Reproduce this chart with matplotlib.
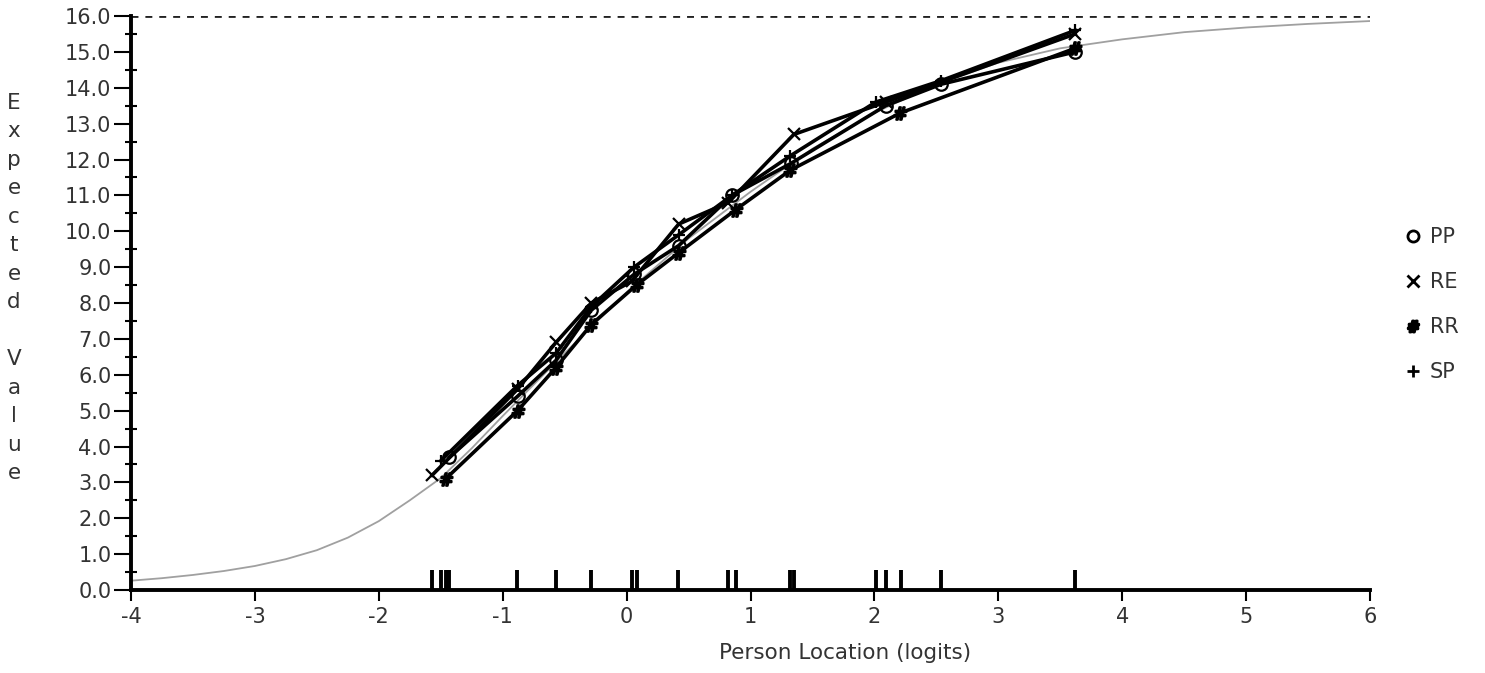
import matplotlib
matplotlib.use("Agg")
import matplotlib.pyplot as plt
from matplotlib.lines import Line2D
import numpy as np

plt.rcParams['font.family'] = ['DejaVu Sans']
plt.rcParams['axes.unicode_minus'] = False

# ---- data ----
# theoretical expected-value curve (grey)
curve_x = [-4, -3.75, -3.5, -3.25, -3, -2.75, -2.5, -2.25, -2, -1.75, -1.5, -1.25,
           -1, -0.5, 0, 0.5, 1, 1.5, 2, 2.5, 3, 3.5, 4, 4.5, 5, 5.5, 6]
curve_y = [0.26, 0.33, 0.42, 0.53, 0.67, 0.86, 1.11, 1.46, 1.92, 2.5, 3.12, 3.95,
           4.85, 6.6, 8.3, 9.8, 11.1, 12.3, 13.3, 14.1, 14.7, 15.1, 15.35, 15.55, 15.68, 15.78, 15.86]

# observed class-interval means per group
pp_x = [-1.43, -0.88, -0.57, -0.285, 0.06, 0.42, 0.85, 1.33, 2.09, 2.54, 3.62]
pp_y = [3.7, 5.4, 6.4, 7.8, 8.8, 9.6, 11.0, 11.9, 13.5, 14.1, 15.0]
re_x = [-1.57, -0.88, -0.57, -0.285, 0.04, 0.42, 0.82, 1.35, 2.09, 3.62]
re_y = [3.2, 5.6, 6.9, 8.0, 8.6, 10.2, 10.8, 12.7, 13.6, 15.5]
rr_x = [-1.46, -0.88, -0.57, -0.285, 0.08, 0.42, 0.88, 1.32, 2.21, 3.62]
rr_y = [3.1, 5.0, 6.2, 7.4, 8.5, 9.4, 10.6, 11.7, 13.3, 15.1]
sp_x = [-1.50, -0.88, -0.57, -0.285, 0.06, 0.42, 0.85, 1.32, 2.01, 2.54, 3.62]
sp_y = [3.6, 5.7, 6.6, 7.9, 9.0, 9.9, 11.0, 12.1, 13.6, 14.2, 15.6]

group_labels = ['PP', 'RE', 'RR', 'SP']
group_markers = ['o', 'x', r'$\#$', '+']

# rug of class-interval locations
rug_x = [-1.573, -1.50, -1.46, -1.43, -0.882, -0.573, -0.285, 0.04, 0.08, 0.418,
         0.82, 0.882, 1.32, 1.35, 2.012, 2.09, 2.214, 2.539, 3.616]

y_max = 16.0
txt = '#333333'

# ---- figure ----
fig = plt.figure(figsize=(14.85, 6.73), dpi=100)
ax = fig.add_axes([0.0882, 0.1233, 0.8344, 0.8529])

ax.plot(curve_x, curve_y, color='#a0a0a0', lw=1.3, zorder=2)

series = [(pp_x, pp_y), (re_x, re_y), (rr_x, rr_y), (sp_x, sp_y)]
for (sx, sy), mk in zip(series, group_markers):
    ax.plot(sx, sy, color='black', lw=2.6, marker=mk, ms=9, mew=1.6,
            mfc='none' if mk == 'o' else 'black', zorder=3)

ax.vlines(rug_x, 0, 0.55, color='black', lw=2.8, zorder=3)
ax.axhline(y_max, color='#222222', lw=2.0, ls=(0, (2.5, 2.5)), zorder=1)

ax.set_xlim(-4, 6)
ax.set_ylim(0, y_max)
ax.set_xticks(np.arange(-4, 7, 1))
ax.set_yticks(np.arange(0, 17, 1))
ax.set_yticks(np.arange(0.5, 16, 1), minor=True)
ax.yaxis.set_major_formatter(matplotlib.ticker.FormatStrFormatter('%.1f'))

ax.spines['top'].set_visible(False)
ax.spines['right'].set_visible(False)
ax.spines['left'].set_linewidth(2.8)
ax.spines['bottom'].set_linewidth(2.8)
ax.tick_params(axis='y', which='major', direction='out', length=12, width=1.5,
               labelsize=15, labelcolor=txt, pad=2)
ax.tick_params(axis='y', which='minor', direction='inout', length=8, width=1.5)
ax.tick_params(axis='x', which='major', direction='out', length=8, width=1.5,
               labelsize=15, labelcolor=txt, pad=4)

ax.set_xlabel('Person Location (logits)', fontsize=15.5, color=txt)
ax.xaxis.set_label_coords(0.576, -0.093)

fig.text(0.0095, 0.572, '\n'.join('Expected Value'), fontsize=15.5, color=txt,
         ha='center', va='center', linespacing=1.53)

handles = [Line2D([], [], ls='none', marker=mk, color='black', ms=8, mew=2.0,
                  mfc='none' if mk == 'o' else 'black') for mk in group_markers]
fig.legend(handles, group_labels, loc='center left', bbox_to_anchor=(0.934, 0.547),
           frameon=False, fontsize=15, handlelength=0.7, handletextpad=0.45,
           labelspacing=1.2, labelcolor=txt)

fig.savefig('out.png', dpi=100, facecolor='white')
